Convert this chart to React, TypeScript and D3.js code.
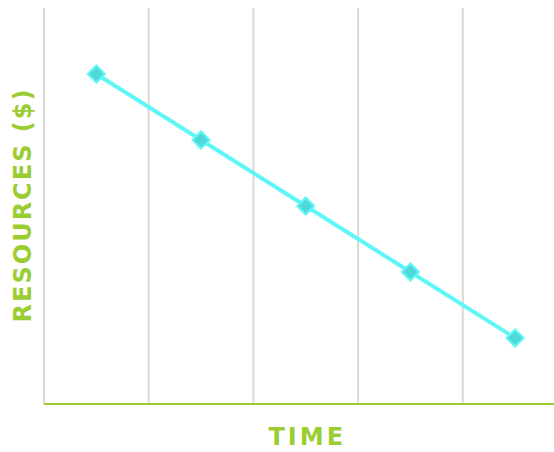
import React from "react";
import * as d3 from "d3";

const periods = ["P1", "P2", "P3", "P4", "P5"];
const resources = [5, 4, 3, 2, 1];
const xTitle = "TIME";
const yTitle = "RESOURCES ($)";

export default function App() {
  const W = 554, H = 452;
  const left = 44, top = 8, bottom = 404;
  const x = d3.scaleBand<string>().domain(periods).range([left, 567.5]);
  const y = d3.scaleLinear().domain([0, 6]).range([bottom, top]);
  const line = d3
    .line<number>()
    .x((_, i) => x(periods[i])! + x.bandwidth() / 2)
    .y((d) => y(d));
  const green = "#9acd32";
  const font = "'DejaVu Sans', sans-serif";
  return (
    <svg
      width={W}
      height={H}
      style={{ position: "absolute", left: 0, top: 0, display: "block" }}
    >
      {periods.map((p) => (
        <line
          key={p}
          x1={x(p)}
          x2={x(p)}
          y1={top}
          y2={bottom}
          stroke="#d9d9d9"
          strokeWidth={2}
        />
      ))}
      <line x1={left} x2={W} y1={bottom} y2={bottom} stroke={green} strokeWidth={2} />
      <path d={line(resources) || ""} fill="none" stroke="#5ef6f6" strokeWidth={4} />
      {resources.map((v, i) => {
        const cx = x(periods[i])! + x.bandwidth() / 2;
        const cy = y(v);
        return (
          <rect
            key={i}
            x={cx - 6}
            y={cy - 6}
            width={12}
            height={12}
            transform={`rotate(45 ${cx} ${cy})`}
            fill="#4fd8d8"
            stroke="#5ef6f6"
            strokeWidth={2}
          />
        );
      })}
      <text
        x={x(periods[2])! + x.bandwidth() / 2 + 1.5}
        y={445}
        textAnchor="middle"
        fill={green}
        fontFamily={font}
        fontWeight={700}
        fontSize={24}
        letterSpacing={3}
      >
        {xTitle}
      </text>
      <text
        transform={`translate(31, ${(top + bottom) / 2 - 1}) rotate(-90)`}
        textAnchor="middle"
        fill={green}
        fontFamily={font}
        fontWeight={700}
        fontSize={24}
        letterSpacing={2}
      >
        {yTitle}
      </text>
    </svg>
  );
}
